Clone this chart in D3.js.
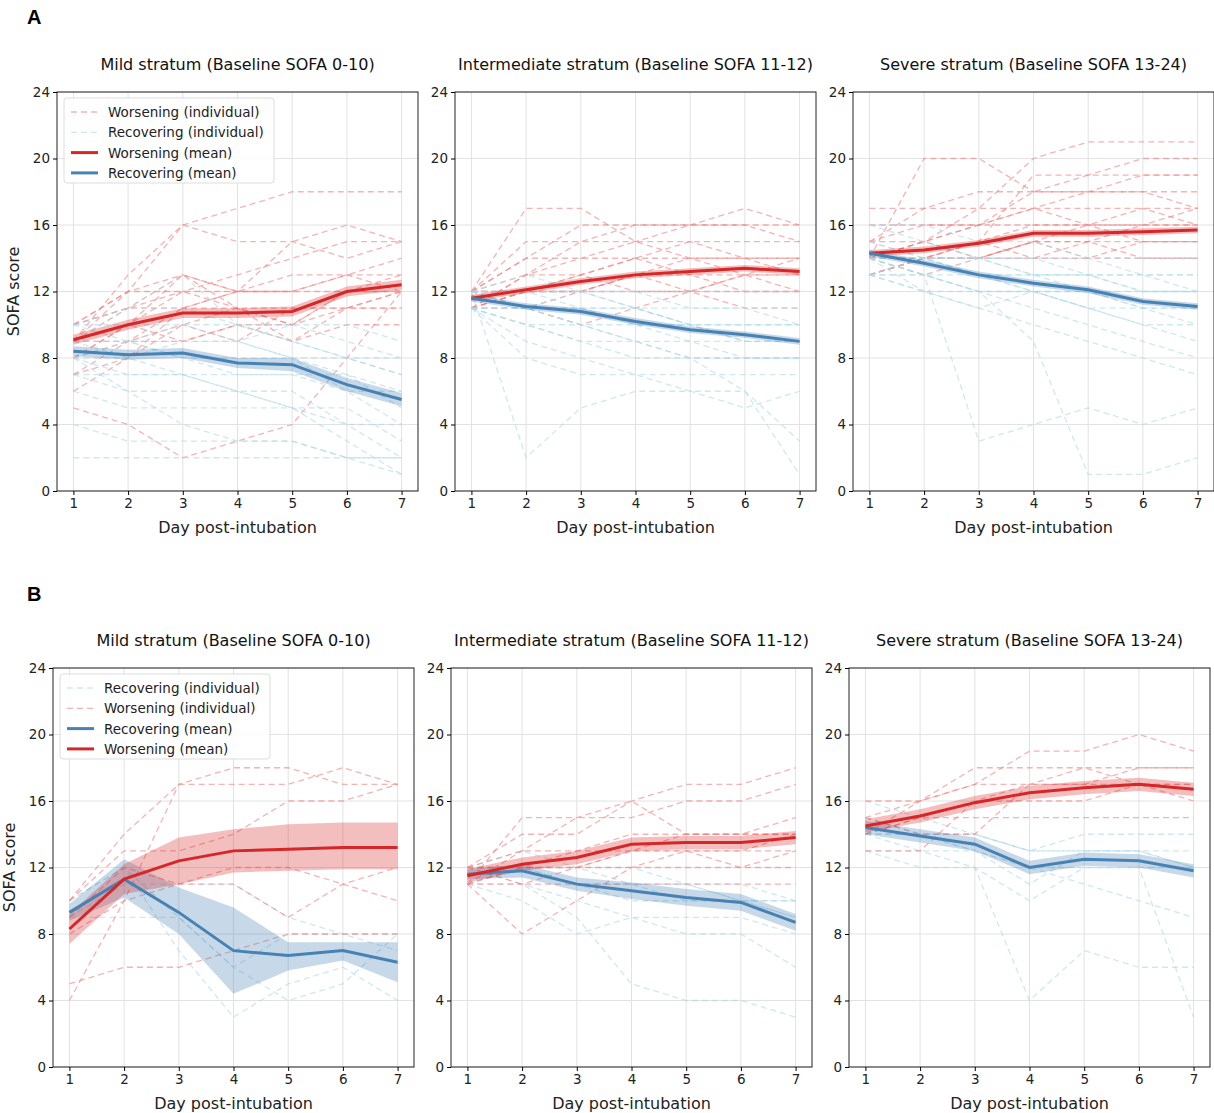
<!DOCTYPE html>
<html><head><meta charset="utf-8">
<script src="https://cdn.jsdelivr.net/npm/d3@7"></script>
<style>body{margin:0;background:#fff;font-family:"DejaVu Sans",sans-serif}</style>
</head><body><svg id="c" width="1214" height="1113"></svg>
<script>
var days = [1, 2, 3, 4, 5, 6, 7];
var yTicks = [0, 4, 8, 12, 16, 20, 24];
var titles = ['Mild stratum (Baseline SOFA 0-10)', 'Intermediate stratum (Baseline SOFA 11-12)', 'Severe stratum (Baseline SOFA 13-24)'];

// row A individual trajectories
var aMildW = [[9,11,13,12,12,13,14],[10,12,16,17,18,18,18],[8,10,12,11,10,11,12],[7,9,11,12,15,16,15],[9,12,13,12,12,13,13],[6,8,10,11,10,12,12],[10,11,11,11,11,11,11],[8,9,9,10,9,10,10],[9,13,16,15,15,14,15],[5,4,2,3,4,8,12],[10,11,12,13,14,15,15],[9,10,9,10,10,12,13],[7,8,11,12,13,13,12],[8,10,13,11,9,11,12],[10,12,12,12,12,12,12],[9,9,10,9,11,11,11]];
var aMildR = [[9,11,13,10,9,8,7],[8,7,7,7,7,6,6],[10,11,11,10,9,8,8],[8,9,8,7,7,7,5],[7,6,6,6,6,4,2],[9,8,7,6,5,3,1],[8,8,9,9,8,6,4],[10,10,10,10,10,10,9],[6,5,5,5,5,4,4],[4,3,3,3,3,2,2],[9,9,8,8,8,8,7],[8,6,4,3,3,2,1],[2,2,2,2,2,2,2],[10,9,10,9,8,7,6],[7,7,7,6,5,5,3],[9,9,9,9,10,9,8]];
var aMidW = [[12,14,14,14,14,14,14],[11,13,15,15,16,16,15],[12,17,17,15,14,13,13],[11,12,12,13,13,13,13],[12,12,13,14,15,15,15],[12,14,16,16,16,16,16],[11,11,12,12,12,13,12],[12,13,13,14,13,12,12],[11,12,13,12,12,11,11],[12,12,12,13,14,14,14],[11,13,14,15,15,14,13],[12,11,10,11,12,13,14],[12,15,15,16,16,17,16],[11,12,12,13,12,12,12]];
var aMidR = [[12,12,11,10,9,8,8],[11,11,11,11,11,11,11],[12,11,10,9,9,9,9],[11,10,10,9,8,8,8],[12,12,12,11,10,10,10],[11,8,7,7,7,7,7],[12,2,5,6,6,5,6],[11,11,11,10,10,9,9],[12,13,12,12,11,11,10],[11,10,9,8,8,8,8],[12,11,11,11,10,9,9],[11,10,9,9,8,6,3],[12,12,12,12,12,12,12],[11,9,8,7,6,6,1],[12,11,10,10,10,9,9],[11,11,12,11,10,10,10]];
var aSevW = [[14,15,16,18,19,19,19],[13,14,14,15,15,16,16],[15,16,16,17,17,17,17],[14,20,20,18,18,18,18],[13,14,15,16,16,17,16],[14,15,16,16,16,15,15],[15,15,17,20,21,21,21],[14,14,14,15,14,14,14],[13,14,15,14,14,15,15],[16,16,16,17,16,16,16],[14,14,15,19,19,20,20],[15,17,17,17,18,18,17],[13,14,14,15,15,15,15],[14,15,14,14,15,14,14],[17,17,18,18,18,19,19],[14,13,14,15,16,16,17]];
var aSevR = [[14,14,13,12,12,11,11],[15,14,14,13,13,12,12],[13,13,12,12,11,10,9],[14,12,11,10,9,8,7],[16,15,14,13,13,12,12],[13,12,12,11,10,9,8],[14,14,14,14,13,13,13],[15,14,13,13,12,11,10],[13,13,3,4,5,4,5],[14,13,12,12,12,12,12],[16,16,15,15,14,14,14],[14,13,13,13,13,13,13],[13,12,11,12,11,10,10],[15,15,14,14,14,13,12],[14,13,12,9,1,1,2],[13,14,13,12,11,11,11]];
// row B individual trajectories
var bMildR = [[9,9,9,6,4,5,8],[10,12,7,3,5,6,4],[9,11,11,11,9,8,7],[10,12,9,6,8,8,8]];
var bMildW = [[4,10,17,18,18,17,17],[10,14,17,17,17,18,17],[5,6,6,7,8,8,8],[10,13,13,14,16,16,17],[8,10,11,12,12,11,10],[9,12,11,11,9,11,12]];
var bMidR = [[12,12,11,10,10,10,9],[11,12,11,11,11,11,10],[12,11,9,5,4,4,3],[11,10,8,9,9,9,8],[12,12,12,12,11,10,10],[11,11,10,9,8,8,6],[12,13,12,11,11,10,9],[11,12,11,11,10,10,10]];
var bMidW = [[11,13,15,15,16,16,17],[12,12,13,14,14,14,14],[11,15,15,16,14,14,15],[12,12,12,13,13,13,13],[11,11,12,12,12,12,12],[12,14,14,16,17,17,18],[11,12,12,13,13,13,14],[12,11,11,11,11,11,11],[11,8,10,12,13,12,13],[12,13,13,13,14,14,14]];
var bSevR = [[15,14,13,12,12,12,12],[14,13,13,11,13,13,12],[13,12,12,4,7,6,6],[15,14,14,13,14,14,14],[14,14,13,12,11,10,9],[16,15,14,13,13,13,12],[13,13,12,10,12,12,3],[14,14,14,13,13,13,13]];
var bSevW = [[14,15,16,17,18,18,18],[15,16,17,17,17,17,16],[14,15,15,15,15,15,15],[16,16,17,19,19,20,19],[13,13,16,16,16,17,17],[14,16,18,18,18,17,17],[15,14,14,17,17,18,18]];

// means and 95% band half-widths
var aMildWMean = [9.1, 10.0, 10.7, 10.7, 10.8, 12.0, 12.4], aMildWErr = [0.3, 0.3, 0.3, 0.3, 0.3, 0.3, 0.3];
var aMildRMean = [8.4, 8.2, 8.3, 7.7, 7.6, 6.4, 5.5], aMildRErr = [0.3, 0.3, 0.3, 0.3, 0.4, 0.4, 0.4];
var aMidWMean = [11.6, 12.1, 12.6, 13.0, 13.2, 13.4, 13.2], aMidWErr = [0.2, 0.2, 0.2, 0.2, 0.2, 0.2, 0.2];
var aMidRMean = [11.6, 11.1, 10.8, 10.2, 9.7, 9.4, 9.0], aMidRErr = [0.2, 0.2, 0.2, 0.2, 0.2, 0.2, 0.2];
var aSevWMean = [14.3, 14.5, 14.9, 15.5, 15.5, 15.6, 15.7], aSevWErr = [0.2, 0.2, 0.2, 0.2, 0.2, 0.2, 0.2];
var aSevRMean = [14.3, 13.7, 13.0, 12.5, 12.1, 11.4, 11.1], aSevRErr = [0.2, 0.2, 0.2, 0.2, 0.2, 0.2, 0.2];
var bMildRMean = [9.3, 11.3, 9.3, 7.0, 6.7, 7.0, 6.3];
var bMildRLo = [8.8, 10.2, 8.0, 4.4, 5.8, 6.4, 5.1], bMildRHi = [9.8, 12.5, 10.8, 9.6, 7.5, 7.5, 7.5];
var bMildWMean = [8.3, 11.3, 12.4, 13.0, 13.1, 13.2, 13.2];
var bMildWLo = [7.4, 10.4, 11.0, 11.7, 11.8, 11.9, 11.9], bMildWHi = [9.2, 12.2, 13.8, 14.3, 14.6, 14.7, 14.7];
var bMidWMean = [11.5, 12.2, 12.6, 13.4, 13.5, 13.5, 13.8], bMidWErr = [0.4, 0.4, 0.4, 0.4, 0.4, 0.4, 0.4];
var bMidRMean = [11.6, 11.8, 11.0, 10.6, 10.2, 9.9, 8.7], bMidRErr = [0.3, 0.4, 0.4, 0.5, 0.5, 0.5, 0.5];
var bSevWMean = [14.5, 15.1, 15.9, 16.5, 16.8, 17.0, 16.7], bSevWErr = [0.4, 0.4, 0.4, 0.4, 0.4, 0.4, 0.4];
var bSevRMean = [14.4, 13.9, 13.4, 12.0, 12.5, 12.4, 11.8], bSevRErr = [0.4, 0.4, 0.4, 0.4, 0.4, 0.4, 0.4];

var RED = '#d62728', BLUE = '#4682b4', LRED = '#f08080', LBLUE = '#add8e6';
var svg = d3.select('#c');
var W = 361, H = 399;

function lo(m, e) { return m.map((v, i) => v - e[i]); }
function hi(m, e) { return m.map((v, i) => v + e[i]); }

function panel(x0, y0, title, showY, series, legendOrder) {
    var g = svg.append('g').attr('transform', 'translate(' + x0 + ',' + y0 + ')');
    var x = d3.scaleLinear().domain([0.7, 7.3]).range([0, W]);
    var y = d3.scaleLinear().domain([0, 24]).range([H, 0]);
    days.forEach(d => g.append('line').attr('x1', x(d)).attr('x2', x(d)).attr('y1', 0).attr('y2', H).attr('stroke', '#e2e2e2'));
    yTicks.forEach(t => g.append('line').attr('x1', 0).attr('x2', W).attr('y1', y(t)).attr('y2', y(t)).attr('stroke', '#e2e2e2'));
    var line = d3.line().x((d, i) => x(days[i])).y(d => y(d));
    var area = d3.area().x((d, i) => x(days[i])).y0(d => y(d[0])).y1(d => y(d[1]));
    series.forEach(s => {
        s.ind.forEach(r => g.append('path').attr('d', line(r)).attr('fill', 'none')
            .attr('stroke', s.light).attr('stroke-opacity', 0.6).attr('stroke-width', 1.3).attr('stroke-dasharray', '6,4'));
    });
    series.forEach(s => {
        g.append('path').attr('d', area(s.lo.map((v, i) => [v, s.hi[i]]))).attr('fill', s.color).attr('fill-opacity', 0.3);
    });
    series.forEach(s => {
        g.append('path').attr('d', line(s.mean)).attr('fill', 'none').attr('stroke', s.color).attr('stroke-width', 3);
    });
    g.append('rect').attr('width', W).attr('height', H).attr('fill', 'none').attr('stroke', '#222').attr('stroke-width', 1);
    var xa = g.append('g').attr('transform', 'translate(0,' + H + ')').call(d3.axisBottom(x).tickValues(days).tickFormat(d3.format('d')).tickSize(4));
    var ya = g.append('g').call(d3.axisLeft(y).tickValues(yTicks).tickFormat(d3.format('d')).tickSize(4));
    [xa, ya].forEach(a => { a.select('.domain').remove(); a.selectAll('text').attr('font-size', 13.5).attr('font-family', 'DejaVu Sans').attr('fill', '#222'); });
    g.append('text').attr('x', W / 2).attr('y', -22).attr('text-anchor', 'middle').attr('font-size', 16).attr('fill', '#111').text(title);
    g.append('text').attr('x', W / 2).attr('y', H + 42).attr('text-anchor', 'middle').attr('font-size', 16).attr('fill', '#222').text('Day post-intubation');
    if (showY) {
        g.append('text').attr('transform', 'translate(-38,' + H / 2 + ') rotate(-90)').attr('text-anchor', 'middle').attr('font-size', 16).attr('fill', '#222').text('SOFA score');
        var lg = g.append('g').attr('transform', 'translate(7,6)');
        lg.append('rect').attr('width', 210).attr('height', 85).attr('rx', 3).attr('fill', '#fff').attr('fill-opacity', 0.85).attr('stroke', '#ddd');
        legendOrder.forEach((e, i) => {
            var yy = 14 + i * 20.3;
            lg.append('line').attr('x1', 7).attr('x2', 34).attr('y1', yy).attr('y2', yy).attr('stroke', e.color)
                .attr('stroke-width', e.mean ? 3 : 1.3).attr('stroke-opacity', e.mean ? 1 : 0.6).attr('stroke-dasharray', e.mean ? null : '6,4');
            lg.append('text').attr('x', 44).attr('y', yy + 5).attr('font-size', 13.5).attr('fill', '#222').text(e.label);
        });
    }
}

function S(ind, light, color, mean, l, h) { return { ind: ind, light: light, color: color, mean: mean, lo: l, hi: h }; }

var legA = [{ color: LRED, label: 'Worsening (individual)' }, { color: LBLUE, label: 'Recovering (individual)' },
    { color: RED, mean: true, label: 'Worsening (mean)' }, { color: BLUE, mean: true, label: 'Recovering (mean)' }];
var legB = [{ color: LBLUE, label: 'Recovering (individual)' }, { color: LRED, label: 'Worsening (individual)' },
    { color: BLUE, mean: true, label: 'Recovering (mean)' }, { color: RED, mean: true, label: 'Worsening (mean)' }];

panel(57, 92, titles[0], true, [S(aMildW, LRED, RED, aMildWMean, lo(aMildWMean, aMildWErr), hi(aMildWMean, aMildWErr)), S(aMildR, LBLUE, BLUE, aMildRMean, lo(aMildRMean, aMildRErr), hi(aMildRMean, aMildRErr))], legA);
panel(455, 92, titles[1], false, [S(aMidW, LRED, RED, aMidWMean, lo(aMidWMean, aMidWErr), hi(aMidWMean, aMidWErr)), S(aMidR, LBLUE, BLUE, aMidRMean, lo(aMidRMean, aMidRErr), hi(aMidRMean, aMidRErr))]);
panel(853, 92, titles[2], false, [S(aSevW, LRED, RED, aSevWMean, lo(aSevWMean, aSevWErr), hi(aSevWMean, aSevWErr)), S(aSevR, LBLUE, BLUE, aSevRMean, lo(aSevRMean, aSevRErr), hi(aSevRMean, aSevRErr))]);
panel(53, 668, titles[0], true, [S(bMildR, LBLUE, BLUE, bMildRMean, bMildRLo, bMildRHi), S(bMildW, LRED, RED, bMildWMean, bMildWLo, bMildWHi)], legB);
panel(451, 668, titles[1], false, [S(bMidR, LBLUE, BLUE, bMidRMean, lo(bMidRMean, bMidRErr), hi(bMidRMean, bMidRErr)), S(bMidW, LRED, RED, bMidWMean, lo(bMidWMean, bMidWErr), hi(bMidWMean, bMidWErr))]);
panel(849, 668, titles[2], false, [S(bSevR, LBLUE, BLUE, bSevRMean, lo(bSevRMean, bSevRErr), hi(bSevRMean, bSevRErr)), S(bSevW, LRED, RED, bSevWMean, lo(bSevWMean, bSevWErr), hi(bSevWMean, bSevWErr))]);

svg.append('text').attr('x', 27).attr('y', 24).attr('font-size', 20).attr('font-weight', 'bold').attr('font-family', 'Liberation Sans').text('A');
svg.append('text').attr('x', 27).attr('y', 601).attr('font-size', 20).attr('font-weight', 'bold').attr('font-family', 'Liberation Sans').text('B');
</script></body></html>
